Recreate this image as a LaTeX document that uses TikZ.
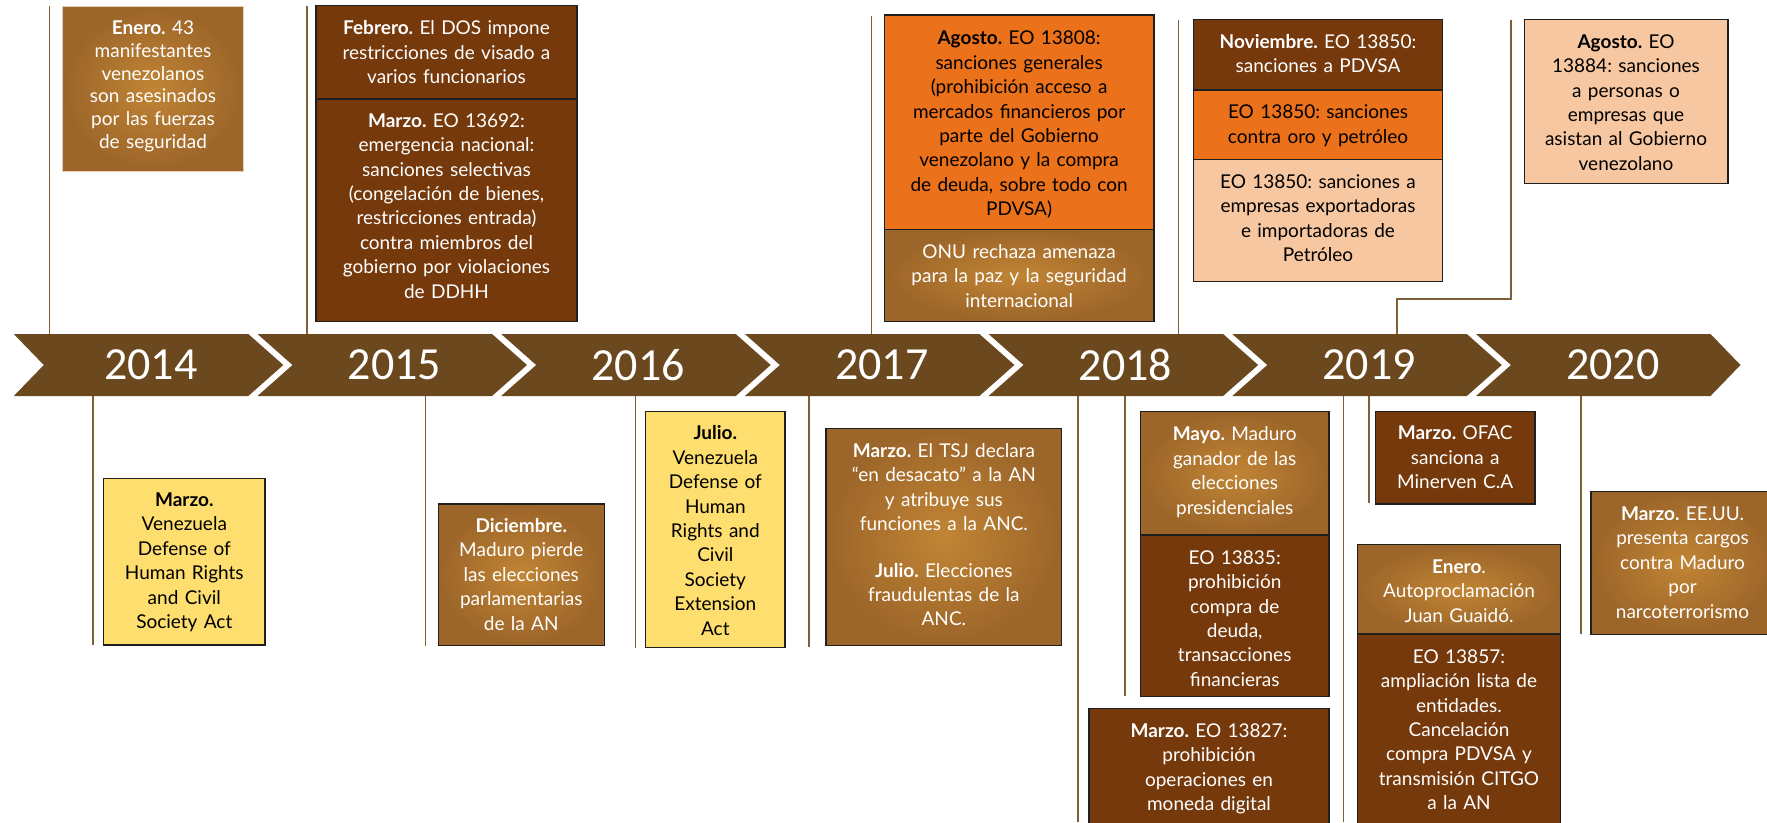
\documentclass[tikz,border=0pt]{standalone}
\usepackage{fontspec}
\setmainfont{Lato}
\newfontfamily\yearfont{Carlito}
\usetikzlibrary{fit}
\definecolor{bandc}{RGB}{107,72,30}
\definecolor{darkb}{RGB}{117,57,12}
\definecolor{gradin}{RGB}{193,133,53}
\definecolor{gradout}{RGB}{156,101,41}
\definecolor{orng}{RGB}{235,113,26}
\definecolor{peach}{RGB}{247,199,161}
\definecolor{yell}{RGB}{253,222,110}
\definecolor{linec}{RGB}{128,96,58}
\definecolor{lightedge}{RGB}{228,208,182}
\frenchspacing
\begin{document}
\begin{tikzpicture}[x=1pt,y=-1pt,
  conn/.style={draw=linec,line width=1.6pt},
  seg/.style={fill=bandc},
  bx/.style={rectangle,inner sep=0pt,outer sep=0pt,draw=black!88,line width=1.4pt},
  dk/.style={bx,fill=darkb},
  gr/.style={bx,inner color=gradin,outer color=gradout},
  og/.style={bx,fill=orng},
  pc/.style={bx,fill=peach},
  yl/.style={bx,fill=yell},
  tx/.style={anchor=base,text width=300pt,align=center,inner sep=0pt,font=\frenchspacing\fontsize{19}{24.4}\selectfont},
  tw/.style={tx,text=white},
  tb/.style={tx,text=black},
  yr/.style={text=white,inner sep=0pt,font=\yearfont\fontsize{46}{50}\selectfont}
]
\useasboundingbox (0,0) rectangle (1767,822);
\clip (0,0) rectangle (1767,822);
\fill[white] (0,0) rectangle (1767,822);

% ---- connectors (top)
\coordinate (t1a) at (49.3,6);    \coordinate (t1b) at (49.3,334);
\coordinate (t2a) at (306.7,6);   \coordinate (t2b) at (306.7,334);
\coordinate (t3a) at (871.6,16);  \coordinate (t3b) at (871.6,334);
\coordinate (t4a) at (1178.6,20); \coordinate (t4b) at (1178.6,334);
\coordinate (t5a) at (1511,20);   \coordinate (t5b) at (1397,334);
\draw[conn] (t1a) -- (t1b);
\draw[conn] (t2a) -- (t2b);
\draw[conn] (t3a) -- (t3b);
\draw[conn] (t4a) -- (t4b);
\draw[conn] (t5b) -- (1397,298.7) -- (1511,298.7) -- (t5a);
% ---- connectors (bottom)
\coordinate (b1a) at (93,396);     \coordinate (b1b) at (93,645);
\coordinate (b2a) at (425.5,396);  \coordinate (b2b) at (425.5,645.7);
\coordinate (b3a) at (635.3,396);  \coordinate (b3b) at (635.3,648.3);
\coordinate (b4a) at (809,396);    \coordinate (b4b) at (809,647.3);
\coordinate (b5a) at (1077.7,396); \coordinate (b5b) at (1077.7,822);
\coordinate (b6a) at (1125,396);   \coordinate (b6b) at (1125,696);
\coordinate (b7a) at (1343.5,396); \coordinate (b7b) at (1343.5,822);
\coordinate (b8a) at (1369,396);   \coordinate (b8b) at (1369,503.3);
\coordinate (b9a) at (1580.8,396); \coordinate (b9b) at (1580.8,634.3);
\foreach \n in {1,...,9}{\draw[conn] (b\n a) -- (b\n b);}

% ---- band
\path[seg] (13.8,334) -- (248.3,334) -- (283.3,365) -- (248.3,396) -- (13.8,396) -- (43.8,365) -- cycle;
\foreach \L in {257.5,501.2,744.9,988.6,1232.3}{
  \path[seg] (\L,334) -- (\L+234.5,334) -- (\L+269.5,365) -- (\L+234.5,396) -- (\L,396) -- (\L+35,365) -- cycle;}
\path[seg] (1476,334) -- (1710.5,334) -- (1740.5,365) -- (1710.5,396) -- (1476,396) -- (1511,365) -- cycle;
\node[yr] (y14) at (150.7,365) {2014};
\node[yr] (y15) at (394.4,365) {2015};
\node[yr] (y16) at (638.1,365) {2016};
\node[yr] (y17) at (881.8,365) {2017};
\node[yr] (y18) at (1125.5,365) {2018};
\node[yr] (y19) at (1369.2,365) {2019};
\node[yr] (y20) at (1612.9,365) {2020};

% ---- top boxes
\node[gr,draw=lightedge,line width=1pt,fit={(62.7,6.7) (243.3,171)}] (e14) {};
\node[tw,font=\frenchspacing\fontsize{19}{22.7}\selectfont] (e14t) at (153,34.8) {\textbf{Enero.} 43\\manifestantes\\venezolanos\\son asesinados\\por las fuerzas\\de seguridad};

\node[dk,fit={(316,5.3) (577,99)}] (f15a) {};
\node[tw] (f15at) at (446.5,34.8) {\textbf{Febrero.} El DOS impone\\restricciones de visado a\\varios funcionarios};
\node[dk,fit={(316,99) (577,321.7)}] (f15b) {};
\node[tw] (f15bt) at (446.5,127.2) {\textbf{Marzo.} EO 13692:\\emergencia nacional:\\sanciones selectivas\\(congelación de bienes,\\restricciones entrada)\\contra miembros del\\gobierno por violaciones\\de DDHH};

\node[og,fit={(884.2,15) (1154,229.3)}] (a17a) {};
\node[tb] (a17at) at (1019.1,44.8) {\textbf{Agosto.} EO 13808:\\sanciones generales\\(prohibición acceso a\\mercados financieros por\\parte del Gobierno\\venezolano y la compra\\de deuda, sobre todo con\\PDVSA)};
\node[gr,fit={(884.2,229.3) (1154,321.7)}] (a17b) {};
\node[tw] (a17bt) at (1019.1,258.2) {ONU rechaza amenaza\\para la paz y la seguridad\\internacional};

\node[dk,fit={(1193.7,19.3) (1442.2,90)}] (n18a) {};
\node[tw] (n18at) at (1318,48.2) {\textbf{Noviembre.} EO 13850:\\sanciones a PDVSA};
\node[og,fit={(1193.7,90) (1442.2,159.3)}] (n18b) {};
\node[tb] (n18bt) at (1318,118.8) {EO 13850: sanciones\\contra oro y petróleo};
\node[pc,fit={(1193.7,159.3) (1442.2,281.7)}] (n18c) {};
\node[tb] (n18ct) at (1318,188.2) {EO 13850: sanciones a\\empresas exportadoras\\e importadoras de\\Petróleo};

\node[pc,fit={(1524.3,19.3) (1728,183.3)}] (a19) {};
\node[tb] (a19t) at (1626,48.2) {\textbf{Agosto.} EO\\13884: sanciones\\a personas o\\empresas que\\asistan al Gobierno\\venezolano};

% ---- bottom boxes
\node[yl,fit={(103.7,478.3) (264.8,645)}] (m14) {};
\node[tb] (m14t) at (184.3,506.5) {\textbf{Marzo.}\\Venezuela\\Defense of\\Human Rights\\and Civil\\Society Act};

\node[gr,fit={(438.3,504) (604.3,645.7)}] (d15) {};
\node[tw] (d15t) at (521.3,532.5) {\textbf{Diciembre.}\\Maduro pierde\\las elecciones\\parlamentarias\\de la AN};

\node[yl,fit={(645.7,411.7) (785,647.7)}] (j16) {};
\node[tb] (j16t) at (715.3,439.8) {\textbf{Julio.}\\Venezuela\\Defense of\\Human\\Rights and\\Civil\\Society\\Extension\\Act};

\node[gr,fit={(826,428.3) (1061.7,645.7)}] (m17) {};
\node[tw] (m17t) at (943.9,457.5) {\textbf{Marzo.} El TSJ declara\\“en desacato” a la AN\\y atribuye sus\\funciones a la ANC.\\[22pt]\textbf{Julio.} Elecciones\\fraudulentas de la\\ANC.};

\node[gr,fit={(1140.3,411.7) (1329,535)}] (my18a) {};
\node[tw] (my18at) at (1234.7,440.8) {\textbf{Mayo.} Maduro\\ganador de las\\elecciones\\presidenciales};
\node[dk,fit={(1140.3,535) (1329,696.7)}] (my18b) {};
\node[tw] (my18bt) at (1234.7,564.2) {EO 13835:\\prohibición\\compra de\\deuda,\\transacciones\\financieras};

\node[dk,fit={(1089,708.3) (1329,835)}] (mz18) {};
\node[tw] (mz18t) at (1209,737.2) {\textbf{Marzo.} EO 13827:\\prohibición\\operaciones en\\moneda digital};

\node[dk,fit={(1375.6,411.7) (1534.8,504)}] (o19) {};
\node[tw] (o19t) at (1455.2,439.8) {\textbf{Marzo.} OFAC\\sanciona a\\Minerven C.A};

\node[gr,fit={(1357.4,544.7) (1560.7,634)}] (e19a) {};
\node[tw] (e19at) at (1459,573.2) {\textbf{Enero}.\\Autoproclamación\\Juan Guaidó.};
\node[dk,fit={(1357.4,634) (1560.7,835)}] (e19b) {};
\node[tw] (e19bt) at (1459,663.2) {EO 13857:\\ampliación lista de\\entidades.\\Cancelación\\compra PDVSA y\\transmisión CITGO\\a la AN};

\node[gr,fit={(1590.9,491.7) (1774,634.3)}] (m20) {};
\node[tw] (m20t) at (1682.5,520.5) {\textbf{Marzo.} EE.UU.\\presenta cargos\\contra Maduro\\por\\narcoterrorismo};
\end{tikzpicture}
\end{document}
